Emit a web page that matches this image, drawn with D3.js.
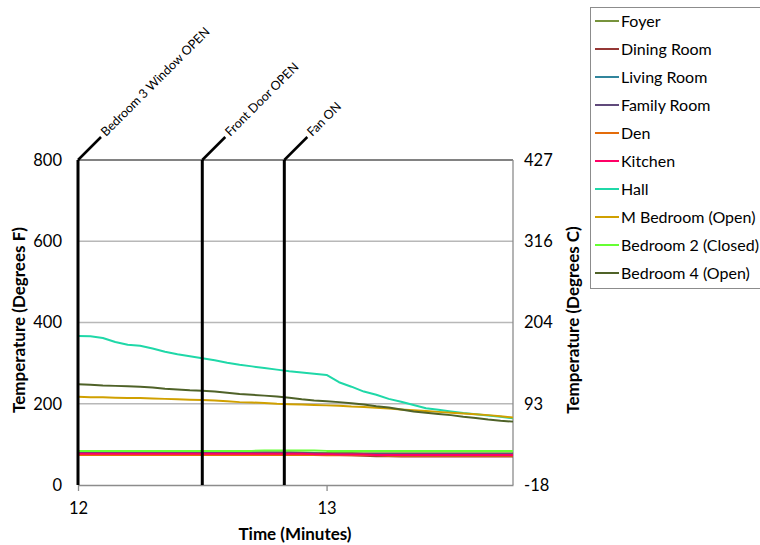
<!DOCTYPE html>
<html><head><meta charset="utf-8">
<script src="https://cdn.jsdelivr.net/npm/d3@7"></script>
<style>body{margin:0;background:#fff;} text{font-family:Lato,"Noto Sans",sans-serif;}</style>
</head><body>
<svg id="chart" width="760" height="545"></svg>
<script>
// ---- data ----
const times = [12.00,12.05,12.10,12.15,12.20,12.25,12.30,12.35,12.40,12.45,12.50,12.55,12.60,12.65,12.70,12.75,12.80,12.85,12.90,12.95,13.00,13.05,13.10,13.15,13.20,13.25,13.30,13.35,13.40,13.45,13.50,13.55,13.60,13.65,13.70,13.75];
const seriesNames = ["Foyer","Dining Room","Living Room","Family Room","Den","Kitchen","Hall","M Bedroom (Open)","Bedroom 2 (Closed)","Bedroom 4 (Open)"];
const seriesColors = ["#77933C","#953735","#31859C","#604A7B","#E46C0A","#FF0066","#1FD8A8","#D0A000","#66FF33","#4F6228"];
const foyer      = [80,80,80,80,80,80,80,80,80,80,80,80,80,80,80,80,80,80,80,79,79,79,79,78,78,78,78,78,78,78,78,78,78,78,78,78];
const diningRoom = [78,78,78,78,78,78,78,78,78,78,78,78,78,78,78,78,78,78,77,76,75,74,73,72,71,71,70,70,70,70,70,70,70,70,70,70];
const livingRoom = [77,77,77,77,77,77,77,77,77,77,77,77,77,77,77,77,77,77,77,76,76,76,75,75,75,75,75,75,75,75,75,75,75,75,75,75];
const familyRoom = [79,79,79,79,79,79,79,79,79,79,79,79,79,80,80,80,80,80,79,78,77,76,76,76,76,76,76,76,76,76,76,76,76,76,76,76];
const den        = [74,74,74,74,74,74,74,74,74,74,74,74,74,74,74,74,74,74,74,74,73,73,73,73,73,72,72,72,72,72,72,72,72,72,72,72];
const kitchen    = [77,77,77,77,77,77,77,77,77,77,77,77,77,77,77,77,77,77,77,76,76,75,75,75,74,74,74,74,74,74,74,74,74,74,74,74];
const hall       = [367,366,362,352,345,343,336,328,322,317,312,307,301,296,292,288,284,280,277,274,271,253,242,230,222,212,205,197,189,185,181,177,174,171,168,164];
const mBedroom   = [217,216,216,215,214,214,213,212,211,210,209,208,206,204,203,202,200,199,198,197,196,195,193,192,190,188,186,184,182,180,178,176,174,172,169,166];
const bedroom2   = [84,84,84,84,84,84,84,84,84,84,84,84,84,84,84,85,85,85,85,85,84,84,84,84,84,84,84,84,84,84,84,84,84,84,84,84];
const bedroom4   = [248,247,245,244,243,242,240,237,235,233,232,230,227,224,222,220,218,215,211,208,206,204,201,198,194,191,186,181,178,175,172,168,165,161,158,156];
const seriesValues = [foyer,diningRoom,livingRoom,familyRoom,den,kitchen,hall,mBedroom,bedroom2,bedroom4];
const eventTimes = [12.0,12.5,12.83];
const eventLabels = ["Bedroom 3 Window OPEN","Front Door OPEN","Fan ON"];
const xTicks = [12,13];
const yTicksF = [0,200,400,600,800];
const yTicksCLabels = ["-18","93","204","316","427"];

// ---- layout ----
const svg = d3.select("#chart");
const L = 78, R = 513, T = 160, B = 485;
const x = d3.scaleLinear().domain([12,13.75]).range([L,R]);
const y = d3.scaleLinear().domain([0,800]).range([B,T]);

// gridlines
svg.append("g").selectAll("line").data(yTicksF.filter(d=>d>0&&d<800)).join("line")
  .attr("x1",L).attr("x2",R).attr("y1",d=>y(d)).attr("y2",d=>y(d))
  .attr("stroke","#b8b8b8").attr("stroke-width",1.3);

// plot border
svg.append("line").attr("x1",L).attr("x2",R).attr("y1",T).attr("y2",T).attr("stroke","#595959").attr("stroke-width",1.5);
svg.append("line").attr("x1",R).attr("x2",R).attr("y1",T).attr("y2",B).attr("stroke","#8c8c8c").attr("stroke-width",1.3);

// x axis
const xAxis = svg.append("g").attr("transform",`translate(0,${B})`)
  .call(d3.axisBottom(x).tickValues(xTicks).tickFormat(d3.format("d")).tickSize(6).tickSizeOuter(0));
xAxis.select(".domain").attr("stroke","#8c8c8c").attr("stroke-width",1.3);
xAxis.selectAll(".tick line").attr("stroke","#8c8c8c").attr("stroke-width",1.3);
xAxis.selectAll(".tick text").attr("font-size",16.5).attr("font-family","Lato").attr("fill","#000").attr("dy","1.2em");

// left axis
const yAxisL = svg.append("g").attr("transform",`translate(${L},0)`)
  .call(d3.axisLeft(y).tickValues(yTicksF).tickSize(0).tickPadding(16));
yAxisL.select(".domain").attr("stroke","#8c8c8c");
yAxisL.selectAll(".tick text").attr("font-size",16.5).attr("font-family","Lato").attr("fill","#000");

// right axis
const yAxisR = svg.append("g").attr("transform",`translate(${R},0)`)
  .call(d3.axisRight(y).tickValues(yTicksF).tickFormat((d,i)=>yTicksCLabels[i]).tickSize(0).tickPadding(11));
yAxisR.select(".domain").remove();
yAxisR.selectAll(".tick text").attr("font-size",16.5).attr("font-family","Lato").attr("fill","#000");

// series
const line = d3.line().x((d,i)=>x(times[i])).y(d=>y(d));
svg.append("g").selectAll("path").data(seriesValues).join("path")
  .attr("d",d=>line(d)).attr("fill","none")
  .attr("stroke",(d,i)=>seriesColors[i]).attr("stroke-width",2).attr("stroke-linejoin","round");

// event lines
const ev = svg.append("g").selectAll("g").data(eventTimes).join("g");
ev.append("line").attr("x1",d=>x(d)).attr("x2",d=>x(d)).attr("y1",B).attr("y2",T)
  .attr("stroke","#000").attr("stroke-width",3);
ev.append("line").attr("x1",d=>x(d)).attr("x2",d=>x(d)+23).attr("y1",T).attr("y2",T-23)
  .attr("stroke","#000").attr("stroke-width",2.5);
ev.append("text").attr("transform",d=>`translate(${x(d)+28},${T-23}) rotate(-45)`)
  .attr("font-size",12.5).attr("fill","#000").text((d,i)=>eventLabels[i]);

// axis titles
svg.append("text").attr("x",295).attr("y",540).attr("text-anchor","middle")
  .attr("font-size",17).attr("font-weight","bold").text("Time (Minutes)");
svg.append("text").attr("transform","translate(25,320) rotate(-90)").attr("text-anchor","middle")
  .attr("font-size",17).attr("font-weight","bold").text("Temperature (Degrees F)");
svg.append("text").attr("transform","translate(579,320) rotate(-90)").attr("text-anchor","middle")
  .attr("font-size",17).attr("font-weight","bold").text("Temperature (Degrees C)");

// legend
const lg = svg.append("g");
lg.append("rect").attr("x",590.5).attr("y",7.5).attr("width",170).attr("height",281)
  .attr("fill","#fff").attr("stroke","#8c8c8c");
const items = lg.selectAll("g").data(seriesNames).join("g")
  .attr("transform",(d,i)=>`translate(0,${21+i*28})`);
items.append("line").attr("x1",595).attr("x2",619).attr("y1",0).attr("y2",0)
  .attr("stroke",(d,i)=>seriesColors[i]).attr("stroke-width",2);
items.append("text").attr("x",621).attr("y",0).attr("dy","0.35em")
  .attr("font-size",16).attr("fill","#000").text(d=>d);
</script>
</body></html>
